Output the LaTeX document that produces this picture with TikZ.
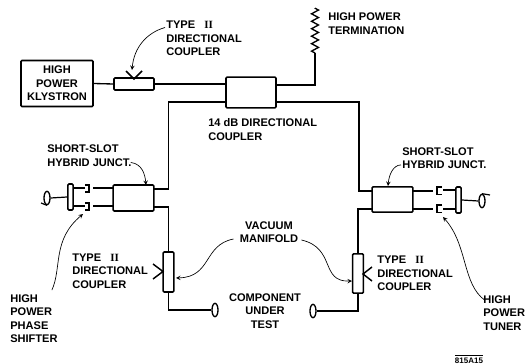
\documentclass[tikz,border=0pt]{standalone}
\usepackage{fontspec}
\setmainfont{Liberation Sans}
\newfontfamily\numeralfont{Liberation Serif}
\usetikzlibrary{shapes.geometric,decorations.pathmorphing}
\newcommand{\typetwo}{TYPE\ \ \ {\numeralfont\bfseries II}}

\begin{document}
\begin{tikzpicture}
[x=0.75pt,y=-0.75pt,%
  waveLine/.style={line width=1pt},%
  leaderArrow/.style={-stealth,line width=0.5pt},%
  blockBox/.style={shape=rectangle,draw,line width=1.2pt,rounded corners=0.8pt,inner sep=0pt},%
  loadEnd/.style={shape=ellipse,draw,line width=1pt,inner sep=0pt,minimum width=4.5pt,minimum height=10pt},%
  labelText/.style={inner sep=0pt,align=left,anchor=west,font=\fontsize{8.3}{10.1}\selectfont\bfseries},%
  centerText/.style={labelText,align=center,anchor=center}]
\useasboundingbox (0,0) rectangle (526,364);
%% boxes
\foreach \nodename/\x/\y/\w/\h in {smallCoupler/134/84/30/9, bigCoupler/251/92.5/37.5/23,
  leftHybrid/133.5/198/30.5/19.5, rightHybrid/392.5/199.5/30.5/19,
  leftVert/168.5/272/8/30, rightVert/358/273.5/8/29.5,
  leftFlange/70.5/197/4/19.5, rightFlange/458.5/200/4/19.5}
{
  \node (\nodename) at (\x,\y) [blockBox,minimum width=\w pt,minimum height=\h pt] {};
}
\node (klystron) at (57,83.5) [blockBox,centerText,minimum width=54pt,minimum height=34.5pt] {HIGH\\POWER\\KLYSTRON};
\foreach \nodename/\x/\y in {leftTest/215/310, rightTest/313/311, leftLoop/47/198, rightLoop/482/201}
{
  \node (\nodename) at (\x,\y) [loadEnd] {};
}
%% labels
\foreach \nodename/\x/\y/\lines in {
  upperTypeLabel/166/38.5/{\typetwo\\DIRECTIONAL\\COUPLER},
  terminationLabel/328/23.5/{HIGH POWER\\TERMINATION},
  bigCouplerLabel/208/129.5/{14 dB DIRECTIONAL\\COUPLER},
  leftHybridLabel/47/155.5/{SHORT-SLOT\\HYBRID JUNCT.},
  rightHybridLabel/402/158/{SHORT-SLOT\\HYBRID JUNCT.},
  leftTypeLabel/72/271/{\typetwo\\DIRECTIONAL\\COUPLER},
  rightTypeLabel/377/273.5/{\typetwo\\DIRECTIONAL\\COUPLER},
  phaseLabel/10/318.5/{HIGH\\POWER\\PHASE\\SHIFTER},
  tunerLabel/483/313/{HIGH\\POWER\\TUNER}}
{
  \node (\nodename) at (\x,\y) [labelText] {\lines};
}
\node (manifoldLabel) at (269,232) [centerText] {VACUUM\\MANIFOLD};
\node (testLabel) at (265,311) [centerText] {COMPONENT\\UNDER\\TEST};
\node (drawingNumber) at (469,359) [inner sep=0pt,font=\fontsize{6}{6}\selectfont\bfseries] {$\overline{\mbox{815A15}}$};
%% points on the lines
\foreach \nodename/\x/\y in {bigNW/226/84, bigSW/226/102, bigNE/276/85, bigSE/276/102,
  leftBendTop/168.5/102, rightBendTop/359/102, loadBend/315/53, loadTip/315/8,
  leftHybNE/154/189, leftHybSE/154/207, rightHybNW/372/191, rightHybSW/372/209,
  leftHybNW/113/188, leftHybSW/113/206, rightHybNE/413/191, rightHybSE/413/209,
  leftGapA/93/188, leftGapB/93/206, rightGapA/433/191, rightGapB/433/209,
  leftStubA/85/188, leftStubB/85/206, rightStubA/443/190, rightStubB/443/209,
  leftFlangeA/73/188, leftFlangeB/73/206, rightFlangeA/456/190, rightFlangeB/456/209,
  leftTail/41/203, rightTail/490/195}
{
  \coordinate (\nodename) at (\x,\y);
}
%% main lines
\draw[waveLine] (klystron.east) -- (smallCoupler.west);
\draw[waveLine] (smallCoupler.east) -- (bigNW);
\draw[waveLine] (bigNE) -| (loadBend);
\draw[waveLine,decorate,decoration={zigzag,segment length=5.6pt,amplitude=2.6pt}] (loadBend) -- (loadTip);
\draw[waveLine] (bigSW) -- (leftBendTop) |- (leftHybNE);
\draw[waveLine] (bigSE) -- (rightBendTop) |- (rightHybNW);
\draw[waveLine] (leftHybSE) -| (leftVert.north);
\draw[waveLine] (rightHybSW) -| (rightVert.north);
\draw[waveLine] (leftVert.south) |- (leftTest.west);
\draw[waveLine] (rightVert.south) |- (rightTest.east);
%% stubs and loops
\foreach \startnode/\endnode in {leftGapA/leftHybNW, leftGapB/leftHybSW, rightHybNE/rightGapA, rightHybSE/rightGapB,
  leftFlangeA/leftStubA, leftFlangeB/leftStubB, rightStubA/rightFlangeA, rightStubB/rightFlangeB}
{
  \draw[line width=0.9pt] (\startnode) -- (\endnode);
}
\draw[line width=0.9pt] (leftLoop.east) -- (leftFlange.west);
\draw[line width=0.9pt] (rightFlange.east) -- (rightLoop.west);
\draw[line width=0.9pt] (leftLoop.south) -- (leftTail);
\draw[line width=0.9pt] (rightLoop.north) -- (rightTail);
%% waveguide ends
\foreach \x/\y in {85/185, 85/203}
{
  \draw[line width=1.2pt] (\x,\y) -- ++(4,0) -- ++(0,7) -- ++(-4,0);
}
\foreach \x/\y in {442/187, 442/205}
{
  \draw[line width=1.2pt] (\x,\y) -- ++(-5,0) -- ++(0,7.5) -- ++(5,0);
}
%% coupling marks
\draw[line width=1.1pt] (126,71) -- (134,79) -- (142,71);
\draw[line width=1.1pt] (153,264) -- (163,271.5) -- (153,279);
\draw[line width=1.1pt] (372,267) -- (363,274) -- (372,281);
%% leaders
\draw[leaderArrow] (upperTypeLabel.west) ++(-1,-11) .. controls (146,33) and (134,48) .. (132,70);
\draw[leaderArrow] (leftHybridLabel.south east) ++(-1,-4) .. controls (142,164) and (145,174) .. (146,185);
\draw[leaderArrow] (rightHybridLabel.south west) ++(-1,-4) .. controls (393,165) and (389,175) .. (388,186);
\draw[leaderArrow] (manifoldLabel.east) ++(-65,7) .. controls (203,245) and (212,277) .. (176,278);
\draw[leaderArrow] (manifoldLabel.east) ++(3,8) .. controls (336,248) and (320,282) .. (352,281);
\draw[leaderArrow] (phaseLabel.north east) ++(-6,-4) .. controls (62,268) and (52,240) .. (83,214);
\draw[leaderArrow] (tunerLabel.north west) ++(2,5) .. controls (462,284) and (468,245) .. (443,217);
\end{tikzpicture}
\end{document}
